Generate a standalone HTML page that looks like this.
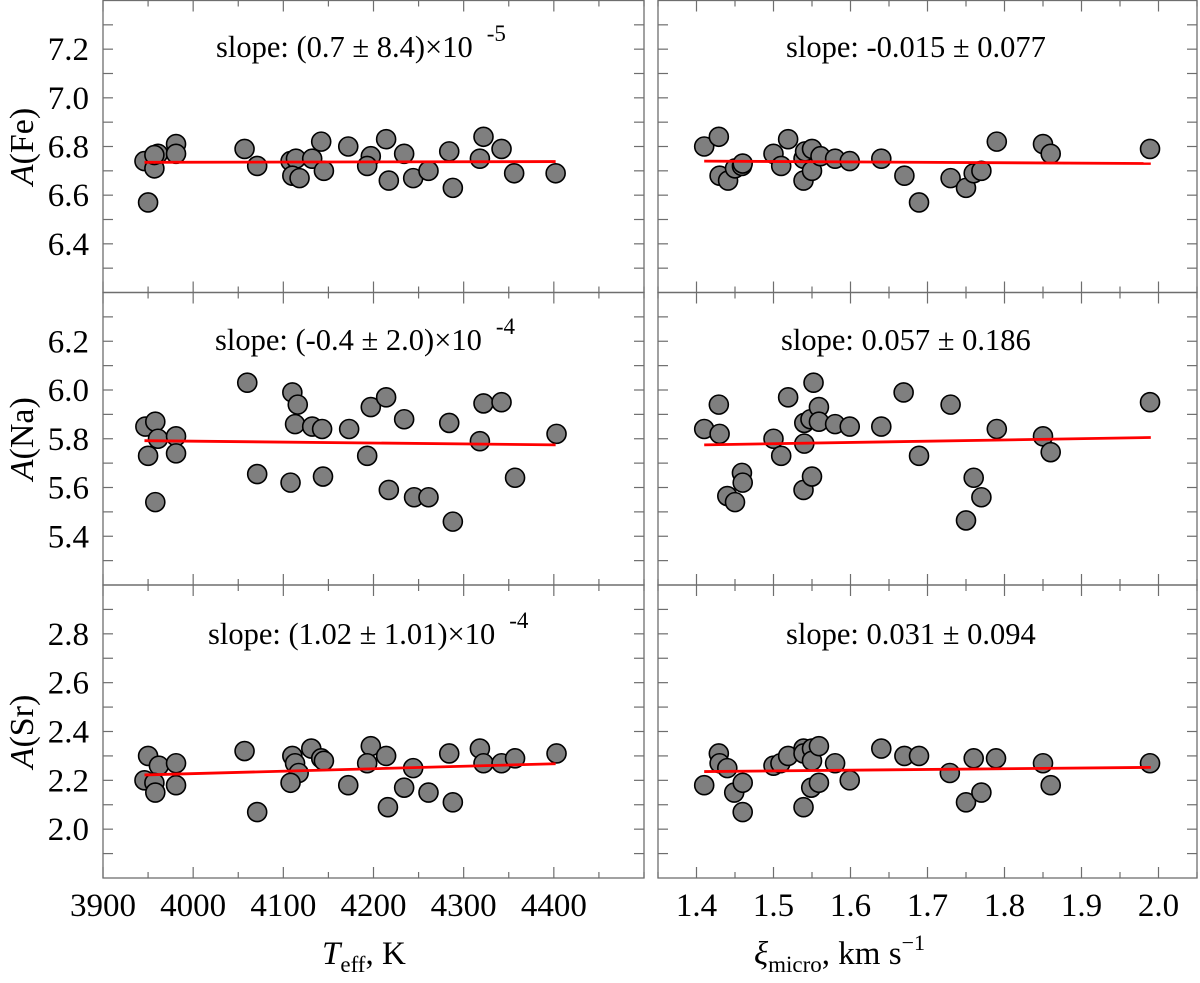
<!DOCTYPE html>
<html><head><meta charset="utf-8"><style>
html,body{margin:0;padding:0;background:#fff;}
svg{display:block;}
text,tspan{font-family:"Liberation Serif","Times New Roman",Times,"DejaVu Serif",serif;}
</style></head><body>
<svg id="chart" width="1200" height="983" viewBox="0 0 1200 983" xmlns="http://www.w3.org/2000/svg"></svg>
<script>
// ---- data ----
const teffFe = [3946,3950,3957,3961,3957,3981,3981,4057,4071,4108,4114,4110,4118,4132,4142,4145,4172,4197,4193,4214,4217,4234,4244,4261,4284,4288,4318,4322,4342,4356,4402];
const feT    = [6.74,6.57,6.71,6.77,6.765,6.81,6.77,6.79,6.72,6.74,6.75,6.68,6.67,6.75,6.82,6.70,6.80,6.76,6.72,6.83,6.66,6.77,6.67,6.70,6.78,6.63,6.75,6.84,6.79,6.69,6.69];
const xiFe   = [1.410,1.429,1.430,1.441,1.450,1.459,1.460,1.500,1.510,1.519,1.539,1.539,1.541,1.550,1.550,1.561,1.580,1.599,1.640,1.670,1.689,1.730,1.750,1.760,1.770,1.790,1.850,1.860,1.989];
const feXi   = [6.80,6.84,6.68,6.66,6.71,6.72,6.73,6.77,6.72,6.83,6.66,6.75,6.78,6.79,6.70,6.76,6.75,6.74,6.75,6.68,6.57,6.67,6.63,6.69,6.70,6.82,6.81,6.77,6.79];
const teffNa = [3947,3958,3961,3950,3958,3981,3981,4060,4071,4108,4110,4116,4113,4132,4143,4144,4173,4197,4193,4214,4217,4234,4245,4261,4284,4288,4318,4322,4342,4357,4403];
const naT    = [5.85,5.87,5.80,5.73,5.54,5.81,5.74,6.03,5.655,5.62,5.99,5.94,5.86,5.85,5.84,5.645,5.84,5.93,5.73,5.97,5.59,5.88,5.56,5.56,5.865,5.46,5.79,5.945,5.95,5.64,5.82];
const xiNa   = [1.410,1.429,1.430,1.440,1.450,1.459,1.460,1.500,1.510,1.519,1.539,1.540,1.540,1.548,1.550,1.552,1.559,1.559,1.580,1.599,1.640,1.669,1.689,1.730,1.750,1.760,1.770,1.790,1.850,1.860,1.989];
const naXi   = [5.84,5.94,5.82,5.565,5.54,5.66,5.62,5.80,5.73,5.97,5.59,5.78,5.865,5.88,5.645,6.03,5.93,5.87,5.86,5.85,5.85,5.99,5.73,5.94,5.465,5.64,5.56,5.84,5.81,5.745,5.95];
const teffSr = [3950,3962,3946,3957,3958,3981,3981,4057,4071,4110,4113,4117,4108,4131,4142,4145,4172,4197,4193,4214,4216,4234,4244,4261,4284,4288,4318,4322,4342,4357,4403];
const srT    = [2.30,2.26,2.20,2.19,2.15,2.27,2.18,2.32,2.07,2.30,2.27,2.23,2.19,2.33,2.29,2.28,2.18,2.34,2.27,2.30,2.09,2.17,2.25,2.15,2.31,2.11,2.33,2.27,2.27,2.29,2.31];
const xiSr   = [1.410,1.429,1.430,1.440,1.449,1.460,1.460,1.500,1.509,1.519,1.539,1.539,1.539,1.550,1.550,1.559,1.549,1.559,1.580,1.599,1.640,1.670,1.689,1.729,1.750,1.760,1.770,1.789,1.850,1.860,1.989];
const srXi   = [2.18,2.31,2.27,2.25,2.15,2.19,2.07,2.26,2.27,2.30,2.33,2.31,2.09,2.33,2.28,2.34,2.17,2.19,2.27,2.20,2.33,2.30,2.30,2.23,2.11,2.29,2.15,2.29,2.27,2.18,2.27];
// fit lines: [x0, y0, x1, y1]
const fitFeT = [3946,6.735,4402,6.738];
const fitFeXi = [1.41,6.74,1.99,6.73];
const fitNaT = [3946,5.792,4402,5.775];
const fitNaXi = [1.41,5.775,1.99,5.805];
const fitSrT = [3946,2.222,4402,2.268];
const fitSrXi = [1.41,2.236,1.99,2.253];
const teffTicks = [3900,4000,4100,4200,4300,4400];
const xiTicks = [1.4,1.5,1.6,1.7,1.8,1.9,2.0];
const feTicks = [6.4,6.6,6.8,7.0,7.2];
const naTicks = [5.4,5.6,5.8,6.0,6.2];
const srTicks = [2.0,2.2,2.4,2.6,2.8];

const NS = "http://www.w3.org/2000/svg";
const svg = document.getElementById('chart');
function mk(tag, attrs, parent){
  const e = document.createElementNS(NS, tag);
  for (const k in attrs) e.setAttribute(k, attrs[k]);
  (parent||svg).appendChild(e);
  return e;
}
const cols = [{x0:103,x1:644,d0:3900,d1:4500,minor:50,ticks:teffTicks,fmt:v=>String(v),name:'teff'},
              {x0:658,x1:1197,d0:1.35,d1:2.05,minor:0.05,ticks:xiTicks,fmt:v=>v.toFixed(1),name:'xi'}];
const rows = [{y0:0.5,y1:292.5,d0:6.2,d1:7.4,ticks:feTicks,name:'fe',label:'(Fe)'},
              {y0:292.5,y1:585,d0:5.2,d1:6.4,ticks:naTicks,name:'na',label:'(Na)'},
              {y0:585,y1:878,d0:1.8,d1:3.0,ticks:srTicks,name:'sr',label:'(Sr)'}];
const series = [[[teffFe,feT,fitFeT],[xiFe,feXi,fitFeXi]],
                [[teffNa,naT,fitNaT],[xiNa,naXi,fitNaXi]],
                [[teffSr,srT,fitSrT],[xiSr,srXi,fitSrXi]]];
const slopes = [[{x:216,t:'slope: (0.7 \u00B1 8.4)\u00D710',s:'-5'},{x:786,t:'slope: -0.015 \u00B1 0.077'}],
                [{x:215,t:'slope: (-0.4 \u00B1 2.0)\u00D710',s:'-4'},{x:781,t:'slope: 0.057 \u00B1 0.186'}],
                [{x:208,t:'slope: (1.02 \u00B1 1.01)\u00D710',s:'-4'},{x:786,t:'slope: 0.031 \u00B1 0.094'}]];
const baselines = [57,350,644];

rows.forEach((r,ri)=>{
  const ys = v => r.y1 - (v - r.d0)/(r.d1 - r.d0)*(r.y1 - r.y0);
  cols.forEach((c,ci)=>{
    const xs = v => c.x0 + (v - c.d0)/(c.d1 - c.d0)*(c.x1 - c.x0);
    const g = mk('g',{});
    
    
    const fr = mk('rect',{x:c.x0,y:r.y0,width:c.x1-c.x0,height:r.y1-r.y0,fill:'none',stroke:'#6e6e6e','stroke-width':1.3},g);
    
    
    for (let v=c.d0; v<=c.d1+1e-9; v+=c.minor){
      const vv = Math.round(v/c.minor)*c.minor;
      const major = c.ticks.some(t=>Math.abs(t-vv)<1e-6);
      const L = major?11:6, x = xs(vv);
      mk('line',{x1:x,y1:r.y1,x2:x,y2:r.y1-L,stroke:'#6e6e6e','stroke-width':1.2},g);
      mk('line',{x1:x,y1:r.y0,x2:x,y2:r.y0+L,stroke:'#6e6e6e','stroke-width':1.2},g);
    }
    for (let k=1;k<12;k++){
      const y = ys(r.d0 + k*0.1);
      mk('line',{x1:c.x0,y1:y,x2:c.x0+10,y2:y,stroke:'#6e6e6e','stroke-width':1.2},g);
      mk('line',{x1:c.x1,y1:y,x2:c.x1-10,y2:y,stroke:'#6e6e6e','stroke-width':1.2},g);
    }
    const [xd, yd, fit] = series[ri][ci];
    xd.forEach((xv,i)=>{
      const p = mk('circle',{cx:xs(xv),cy:ys(yd[i]),r:9.5,fill:'#7f7f7f',stroke:'#000','stroke-width':1.6},g);
      
      
    });
    const fl = mk('line',{x1:xs(fit[0]),y1:ys(fit[1]),x2:xs(fit[2]),y2:ys(fit[3]),stroke:'#ff0000','stroke-width':2.8},g);
    
    
    const s = slopes[ri][ci];
    const t = mk('text',{x:s.x,y:baselines[ri],'font-size':30.5,fill:'#000'},g);
    t.textContent = s.t;
    
    
    if (s.s){
      const sp = mk('tspan',{dx:14,dy:-16,'font-size':23},t);
      sp.textContent = s.s;
    }
    if (ri===2){
      c.ticks.forEach(v=>{
        const tl = mk('text',{x:xs(v),y:916,'font-size':33,'text-anchor':'middle',fill:'#000'});
        tl.textContent = c.fmt(v);
        
        
      });
    }
    if (ci===0){
      r.ticks.forEach(v=>{
        const tl = mk('text',{x:89,y:ys(v)+11,'font-size':33,'text-anchor':'end',fill:'#000'});
        tl.textContent = v.toFixed(1);
        
        
      });
      const cy = (r.y0+r.y1)/2;
      const yl = mk('text',{x:0,y:0,'font-size':34,'text-anchor':'middle',fill:'#000',transform:`translate(33,${cy}) rotate(-90)`});
      
      
      const a = mk('tspan',{'font-style':'italic'},yl); a.textContent='A';
      const b = mk('tspan',{},yl); b.textContent=r.label;
    }
  });
});
</script>
<svg style="position:absolute;left:0;top:0" width="1200" height="983">
  <text x="322" y="964" font-size="33"><tspan font-style="italic">T</tspan><tspan font-size="23" dy="8">eff</tspan><tspan dy="-8">, K</tspan></text>
  <text x="754" y="964" font-size="33"><tspan font-style="italic">ξ</tspan><tspan font-size="23" dy="8">micro</tspan><tspan dy="-8">, km s</tspan><tspan font-size="22" dy="-14">−1</tspan></text>
</svg>
</body></html>
